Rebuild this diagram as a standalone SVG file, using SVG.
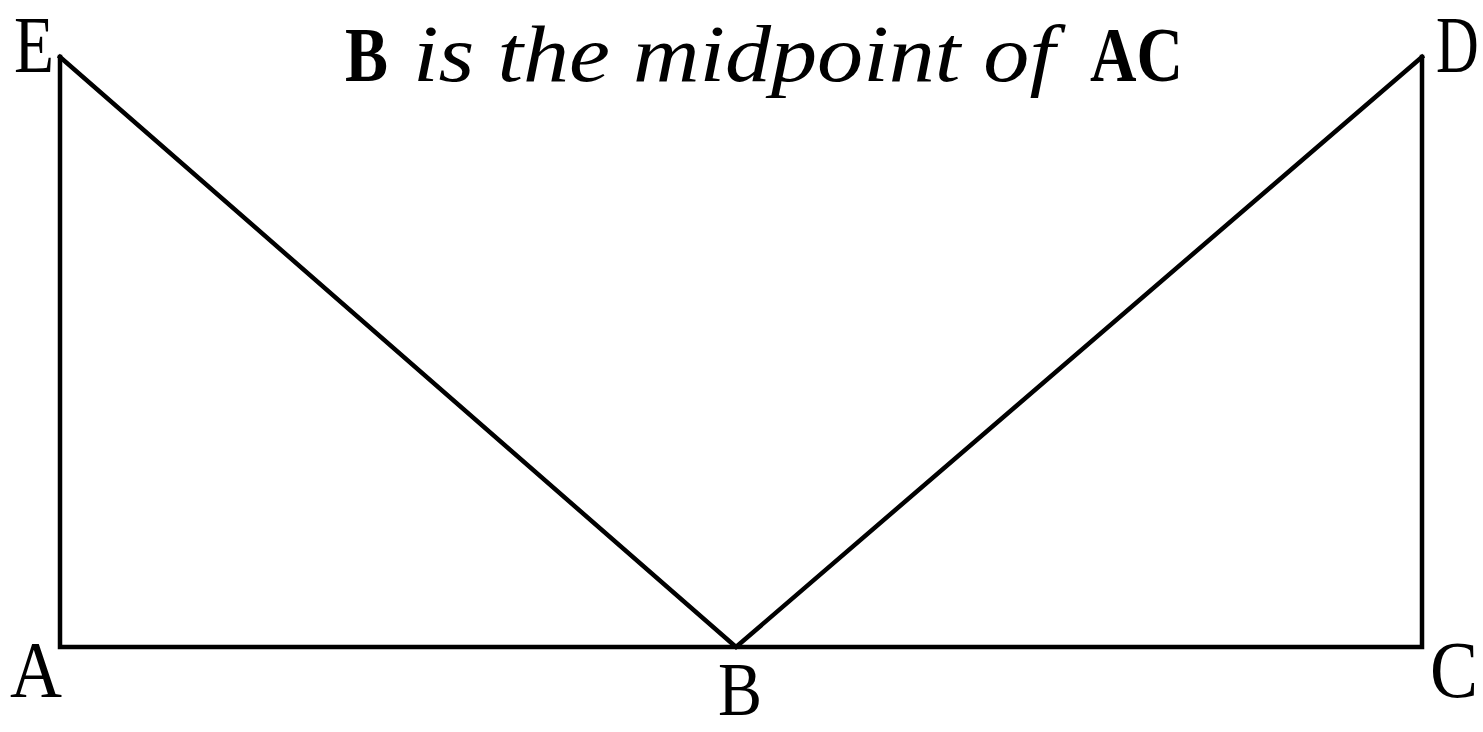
<svg xmlns="http://www.w3.org/2000/svg" width="1483" height="732" viewBox="0 0 1483 732">
<style>
.lbl{font-family:"Liberation Serif","DejaVu Serif",serif;font-size:80px;fill:#000}
.bold{font-family:"Liberation Serif","DejaVu Serif",serif;font-size:78px;font-weight:bold;fill:#000}
.curly{font-family:"Liberation Serif","DejaVu Serif",serif;font-style:italic;font-size:80px;fill:#000}
.edge{stroke:#000;stroke-width:4.5;fill:none;stroke-linejoin:miter;stroke-linecap:square}
</style>
<rect width="1483" height="732" fill="#fff"/>
<g id="connectors">
<polyline class="edge" points="60,57 60,647 1422,647 1422,57"/>
<polyline class="edge" points="60,57 736,647 1422,57"/>
</g>
<g id="node-E"><text class="lbl" x="14" y="72" textLength="40" lengthAdjust="spacingAndGlyphs">E</text></g>
<g id="node-D"><text class="lbl" transform="translate(1436,72) scale(0.74,1)" x="0" y="0">D</text></g>
<g id="node-A"><text class="lbl" x="10" y="697" textLength="52" lengthAdjust="spacingAndGlyphs">A</text></g>
<g id="node-B"><text class="lbl" x="740" y="715" text-anchor="middle" textLength="44" lengthAdjust="spacingAndGlyphs" style="font-size:76px">B</text></g>
<g id="node-C"><text class="lbl" x="1478" y="697" text-anchor="end" textLength="48" lengthAdjust="spacingAndGlyphs">C</text></g>
<g id="title">
<text class="bold" x="345" y="81" textLength="43" lengthAdjust="spacingAndGlyphs">B</text>
<text class="curly" x="413" y="81" textLength="642" lengthAdjust="spacingAndGlyphs">is the midpoint of</text>
<text class="bold" x="1090" y="81" textLength="93" lengthAdjust="spacingAndGlyphs">AC</text>
</g>
</svg>
